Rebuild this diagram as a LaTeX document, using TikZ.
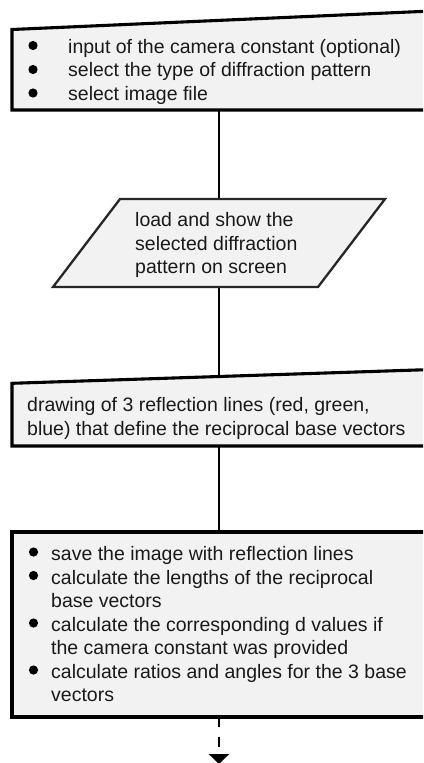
\documentclass[tikz,border=0pt]{standalone}
\usepackage{fontspec}
\setmainfont{Liberation Sans}
\usetikzlibrary{arrows.meta}
\definecolor{boxfill}{HTML}{F2F2F2}
\begin{document}
\begin{tikzpicture}[x=1pt,y=-1pt,
  boxline/.style={draw=black,line width=3.1pt,fill=boxfill,line join=miter},
  paraline/.style={draw=black!85,line width=2.3pt,fill=boxfill,line join=miter},
  conn/.style={line width=2.6pt,draw=black},
  txt/.style={anchor=base west,inner sep=0pt,font=\fontsize{19.5}{23.5}\selectfont,text=black!90},
  dotb/.style={fill=black}]
\useasboundingbox (0,0) rectangle (423,763);
\clip (0,0) rectangle (423,763);
% connector coordinates
\coordinate (b1s) at (219,110);
\coordinate (p1n) at (219,199);
\coordinate (p1s) at (219,287);
\coordinate (b3n) at (219,376);
\coordinate (b3s) at (219,446);
\coordinate (b4n) at (219,532);
\coordinate (b4s) at (219,717);
\coordinate (endpt) at (219,764);
% connectors
\draw[conn] (b1s) -- (p1n);
\draw[conn] (p1s) -- (b3n);
\draw[conn] (b3s) -- (b4n);
\draw[conn, dash pattern=on 10pt off 10pt, -{Triangle[width=20pt,length=10pt]}] (b4s) -- (endpt);
% box 1 (manual input)
\draw[boxline] (12,29.5) -- (432,11) -- (432,110) -- (12,110) -- cycle;
\fill[dotb] (33,45.5) circle (4.6pt);
\fill[dotb] (33,69.5) circle (4.6pt);
\fill[dotb] (33,93) circle (4.6pt);
\node[txt] (t1) at (68,53) {\begin{tabular}[t]{@{}l@{}}input of the camera constant (optional)\\select the type of diffraction pattern\\select image file\end{tabular}};
% parallelogram
\draw[paraline] (120,199) -- (385,199) -- (318,287) -- (53,287) -- cycle;
\node[txt] (t2) at (135,226.5) {\begin{tabular}[t]{@{}l@{}}load and show the\\selected diffraction\\pattern on screen\end{tabular}};
% box 3 (manual input)
\draw[boxline] (12,383.3) -- (432,369.5) -- (432,446) -- (12,446) -- cycle;
\node[txt] (t3) at (27,411.5) {\begin{tabular}[t]{@{}l@{}}drawing of 3 reflection lines (red, green,\\blue) that define the reciprocal base vectors\end{tabular}};
% box 4 (process)
\draw[boxline] (12,532) -- (432,532) -- (432,717) -- (12,717) -- cycle;
\fill[dotb] (33.5,552) circle (4.6pt);
\fill[dotb] (33.5,575.5) circle (4.6pt);
\fill[dotb] (33.5,623) circle (4.6pt);
\fill[dotb] (33.5,670) circle (4.6pt);
\node[txt] (t4) at (51,560.5) {\begin{tabular}[t]{@{}l@{}}save the image with reflection lines\\calculate the lengths of the reciprocal\\base vectors\\calculate the corresponding d values if\\the camera constant was provided\\calculate ratios and angles for the 3 base\\vectors\end{tabular}};
\end{tikzpicture}
\end{document}
